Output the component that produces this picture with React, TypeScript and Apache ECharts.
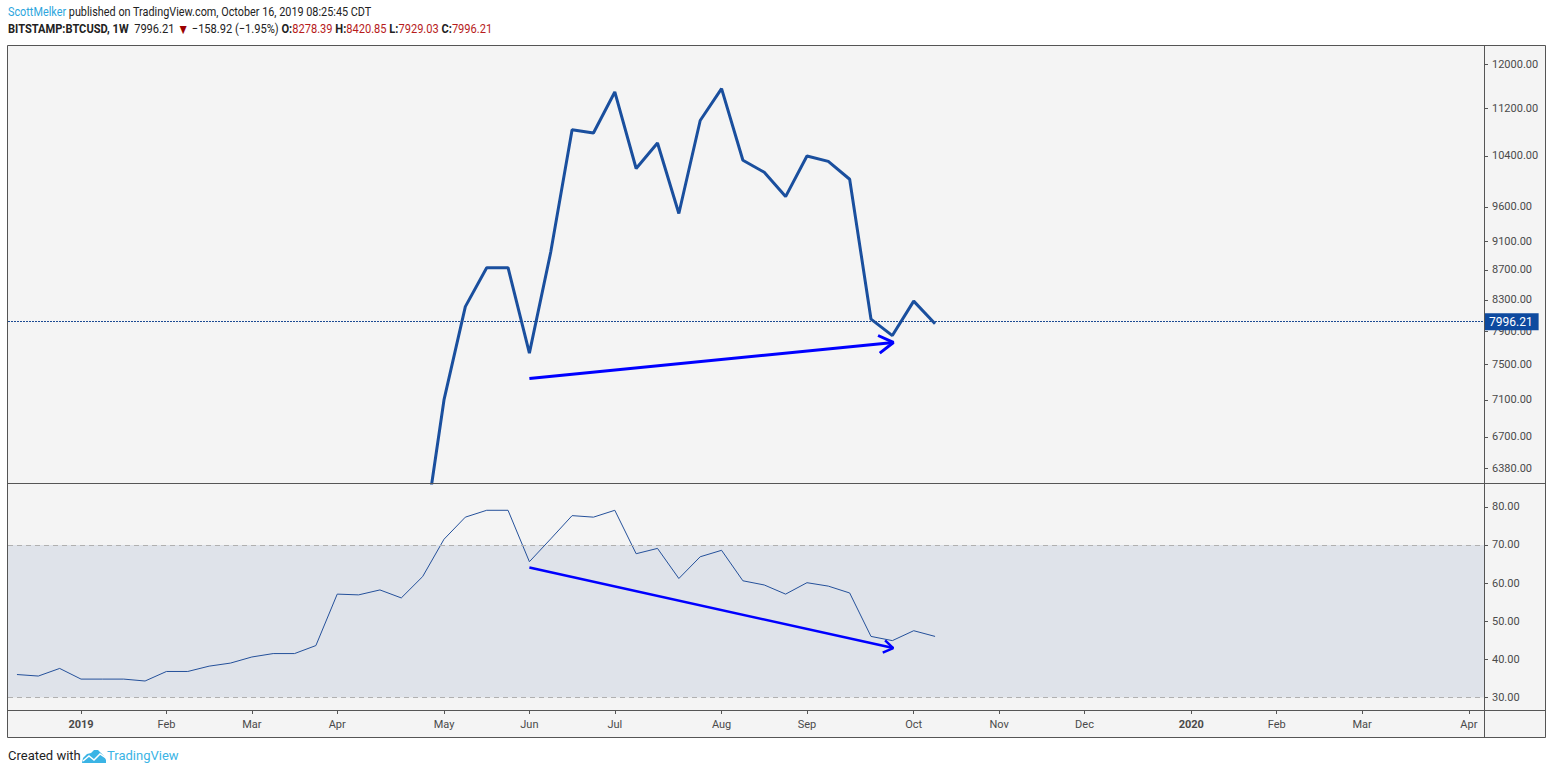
import React, { useEffect, useRef } from "react";
import * as echarts from "echarts";

// Weekly bars, week index 0 = week of 2018-12-17
const tickWeeks = [3, 7, 11, 15, 20, 24, 28, 33, 37, 42, 46, 50, 55, 59, 63, 68];
const tickLabels = ["2019", "Feb", "Mar", "Apr", "May", "Jun", "Jul", "Aug", "Sep", "Oct", "Nov", "Dec", "2020", "Feb", "Mar", "Apr"];

const priceFirstWeek = 19;
const priceClose = [5650, 7098, 8214, 8730, 8730, 7638, 8946, 10834, 10778, 11492, 10195, 10611, 9502, 10990, 11553, 10327, 10135, 9757, 10397, 10310, 10025, 8054, 7850, 8285, 7996.21];

const rsiValues = [36.0, 35.6, 37.6, 34.8, 34.8, 34.8, 34.3, 36.8, 36.8, 38.2, 39.0, 40.6, 41.5, 41.5, 43.6, 57.1, 56.9, 58.2, 56.1, 61.7, 71.5, 77.3, 79.1, 79.1, 65.6, 71.6, 77.7, 77.3, 79.1, 67.7, 69.1, 61.2, 66.9, 68.6, 60.6, 59.5, 57.1, 60.1, 59.2, 57.4, 46.0, 44.9, 47.5, 46.0];

const priceTicks = [12000, 11200, 10400, 9600, 9100, 8700, 8300, 7900, 7500, 7100, 6700, 6380];
const rsiTicks = [30, 40, 50, 60, 70, 80];
const lastPrice = 7996.21;

const priceArrow = [[24.0, 7341], [41.05, 7766]];
const priceArrowHead = [[40.33, 7851], [41.05, 7766], [40.41, 7638]];
const rsiArrow = [[24.0, 64.1], [41.04, 42.95]];
const rsiArrowHead = [[40.66, 44.95], [41.04, 42.95], [40.55, 41.75]];

const weekRange = [-0.42, 68.71];
const priceRange = [6233, 12349];
const rsiRange = [26.69, 86.0];

const FONT = "Roboto";
const AXIS_COLOR = "#555";
const LABEL_COLOR = "#4a4a4a";
const LINE_BLUE = "#1a4f9e";

export default function App() {
  const ref = useRef<HTMLDivElement>(null);
  useEffect(() => {
    if (!ref.current) return;
    const chart = echarts.init(ref.current, null, { renderer: "svg" });
    const ln = (v: number) => Math.log(v);
    const option: any = {
      animation: false,
      backgroundColor: "#ffffff",
      grid: [
        { left: 8, top: 46, width: 1476, height: 437 },
        { left: 8, top: 484, width: 1476, height: 226 },
      ],
      xAxis: [
        { type: "value", gridIndex: 0, min: weekRange[0], max: weekRange[1], show: false, splitLine: { show: false } },
        {
          type: "value", gridIndex: 1, min: weekRange[0], max: weekRange[1],
          splitLine: { show: false },
          axisLine: { show: true, onZero: false, lineStyle: { color: AXIS_COLOR } },
          axisTick: { show: true, length: 4, customValues: tickWeeks, lineStyle: { color: AXIS_COLOR } },
          axisLabel: {
            customValues: tickWeeks, margin: 9, color: LABEL_COLOR, fontSize: 11, fontFamily: FONT,
            formatter: (v: number) => {
              const i = tickWeeks.indexOf(Math.round(v));
              const l = i >= 0 ? tickLabels[i] : "";
              return /^\d{4}$/.test(l) ? `{y|${l}}` : l;
            },
            rich: { y: { fontWeight: "bold", fontSize: 11, fontFamily: FONT, color: LABEL_COLOR } },
          },
        },
      ],
      yAxis: [
        {
          type: "value", gridIndex: 0, position: "right", min: ln(priceRange[0]), max: ln(priceRange[1]),
          splitLine: { show: false },
          axisLine: { show: true, onZero: false, lineStyle: { color: AXIS_COLOR } },
          axisTick: { show: true, length: 4, customValues: priceTicks.map(ln), lineStyle: { color: AXIS_COLOR } },
          axisLabel: {
            customValues: priceTicks.map(ln), margin: 8, color: LABEL_COLOR, fontSize: 11, fontFamily: FONT,
            formatter: (v: number) => Math.round(Math.exp(v)).toFixed(2),
          },
        },
        {
          type: "value", gridIndex: 1, position: "right", min: rsiRange[0], max: rsiRange[1],
          splitLine: { show: false },
          axisLine: { show: true, onZero: false, lineStyle: { color: AXIS_COLOR } },
          axisTick: { show: true, length: 4, customValues: rsiTicks, lineStyle: { color: AXIS_COLOR } },
          axisLabel: {
            customValues: rsiTicks, margin: 8, color: LABEL_COLOR, fontSize: 11, fontFamily: FONT,
            formatter: (v: number) => v.toFixed(2),
          },
        },
      ],
      series: [
        {
          type: "line", xAxisIndex: 1, yAxisIndex: 1, silent: true,
          data: rsiValues.map((v, i) => [i, v]),
          symbol: "none", lineStyle: { color: "#24509a", width: 1 },
          markArea: {
            silent: true,
            itemStyle: { color: "#dfe3ea" },
            data: [[{ yAxis: 30 }, { yAxis: 70 }]],
          },
          markLine: {
            silent: true, symbol: "none", label: { show: false },
            lineStyle: { color: "#b0b0b0", type: [5, 4], width: 1 },
            data: [{ yAxis: 30 }, { yAxis: 70 }],
          },
          z: 3,
        },
        {
          type: "line", xAxisIndex: 1, yAxisIndex: 1, silent: true, symbol: "none",
          data: rsiArrow, lineStyle: { color: "#0000ff", width: 2.5 }, z: 4,
        },
        {
          type: "line", xAxisIndex: 1, yAxisIndex: 1, silent: true, symbol: "none",
          data: rsiArrowHead, lineStyle: { color: "#0000ff", width: 2.5 }, z: 4,
        },
        {
          type: "line", xAxisIndex: 0, yAxisIndex: 0, silent: true,
          data: priceClose.map((v, i) => [priceFirstWeek + i, ln(v)]),
          symbol: "none", lineStyle: { color: LINE_BLUE, width: 3 },
          markLine: {
            silent: true, symbol: "none",
            lineStyle: { color: "#1c4a92", type: [2, 1], width: 1 },
            label: {
              show: true, position: "end", distance: 0,
              formatter: () => lastPrice.toFixed(2),
              color: "#ffffff", backgroundColor: "#0e4a9f", fontSize: 12, fontFamily: FONT,
              padding: [3, 6, 2, 5], lineHeight: 12,
            },
            data: [{ yAxis: ln(lastPrice) }],
          },
          z: 3,
        },
        {
          type: "line", xAxisIndex: 0, yAxisIndex: 0, silent: true, symbol: "none",
          data: priceArrow.map((p) => [p[0], ln(p[1])]), lineStyle: { color: "#0000ff", width: 3 }, z: 4,
        },
        {
          type: "line", xAxisIndex: 0, yAxisIndex: 0, silent: true, symbol: "none",
          data: priceArrowHead.map((p) => [p[0], ln(p[1])]), lineStyle: { color: "#0000ff", width: 3 }, z: 4,
        },
      ],
      graphic: [
        { type: "rect", z: -10, silent: true, shape: { x: 7.5, y: 45.5, width: 1538, height: 692 }, style: { fill: "#f4f4f4", stroke: "none" } },
        { type: "rect", z: 100, silent: true, shape: { x: 7.5, y: 45.5, width: 1538, height: 692 }, style: { fill: "none", stroke: AXIS_COLOR, lineWidth: 1 } },
        { type: "line", z: 100, silent: true, shape: { x1: 1484.5, y1: 45.5, x2: 1484.5, y2: 737.5 }, style: { stroke: AXIS_COLOR, lineWidth: 1 } },
        { type: "line", z: 100, silent: true, shape: { x1: 7.5, y1: 483.5, x2: 1545.5, y2: 483.5 }, style: { stroke: AXIS_COLOR, lineWidth: 1 } },
        { type: "line", z: 100, silent: true, shape: { x1: 7.5, y1: 710.5, x2: 1545.5, y2: 710.5 }, style: { stroke: AXIS_COLOR, lineWidth: 1 } },
        {
          type: "text", x: 8, y: 5, scaleX: 0.835, z: 100, silent: true,
          style: {
            text: "{u|ScottMelker}{n| published on TradingView.com, October 16, 2019 08:25:45 CDT}",
            rich: {
              u: { fill: "#2ca6dd", fontSize: 13, fontFamily: FONT },
              n: { fill: "#222222", fontSize: 13, fontFamily: FONT },
            },
          },
        },
        {
          type: "text", x: 8, y: 22, scaleX: 0.853, z: 100, silent: true,
          style: {
            text: "{b|BITSTAMP:BTCUSD, 1W}{n|  7996.21 }{t|▼}{n| −158.92 (−1.95%) }{b|O:}{r|8278.39}{n| }{b|H:}{r|8420.85}{n| }{b|L:}{r|7929.03}{n| }{b|C:}{r|7996.21}",
            rich: {
              b: { fill: "#222222", fontSize: 13, fontFamily: FONT, fontWeight: "bold" },
              n: { fill: "#222222", fontSize: 13, fontFamily: FONT },
              r: { fill: "#b71c1c", fontSize: 13, fontFamily: FONT },
              t: { fill: "#9b0000", fontSize: 14, fontFamily: FONT },
            },
          },
        },
        {
          type: "text", x: 8, y: 749, z: 100, silent: true,
          style: { text: "Created with", fill: "#1e1e1e", fontSize: 13, fontFamily: FONT },
        },
        {
          type: "polygon", z: 100, silent: true,
          shape: { points: [[82, 763], [83, 758], [87, 754], [91, 753], [94, 750], [98, 750], [101, 753], [104, 756], [106, 760], [106, 763]] },
          style: { fill: "#3bb4e5" },
        },
        {
          type: "polyline", z: 101, silent: true,
          shape: { points: [[83, 761], [89, 756], [94, 760], [100, 754], [106, 758]] },
          style: { stroke: "#ffffff", lineWidth: 1.5, fill: "none" },
        },
        {
          type: "text", x: 107, y: 749, z: 100, silent: true,
          style: { text: "TradingView", fill: "#3bb4e5", fontSize: 13, fontFamily: FONT },
        },
      ],
    };
    chart.setOption(option);
    return () => chart.dispose();
  }, []);
  return <div ref={ref} style={{ position: "fixed", left: 0, top: 0, width: 1552, height: 774 }} />;
}
